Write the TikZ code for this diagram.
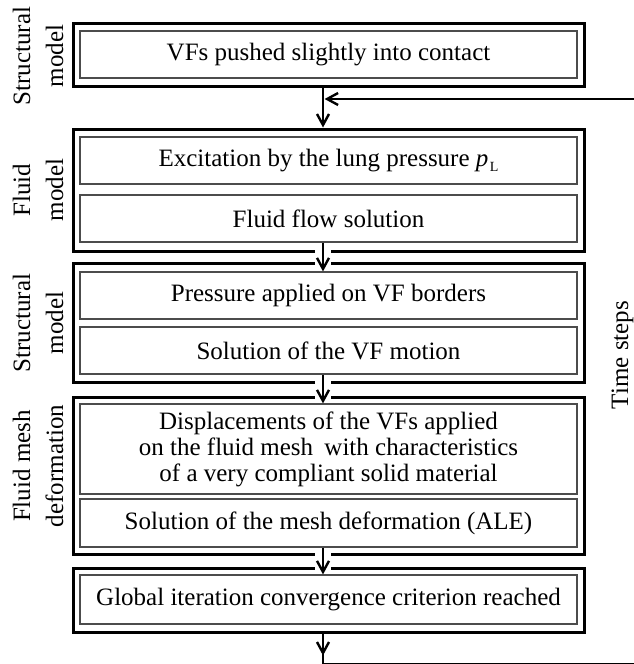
\documentclass[tikz,border=0pt]{standalone}
\usepackage{fontspec}
\setmainfont{Liberation Serif}
\usetikzlibrary{arrows.meta,calc}
\begin{document}
\begin{tikzpicture}[x=1pt,y=-1pt,
  outer/.style={draw, line width=3pt, inner sep=0pt, minimum width=511pt},
  inner/.style={draw=black!70, line width=1.2pt, inner sep=0pt, minimum width=497pt,
    font=\fontsize{25}{26}\selectfont, align=center},
  lab/.style={rotate=90, anchor=base, inner sep=0pt, font=\fontsize{25}{26}\selectfont},
  arr/.style={line width=2.4pt, -{Straight Barb[length=11pt,width=12pt]}},
  conn/.style={line width=2.4pt},
  gap/.style={white, line width=16pt}]
\useasboundingbox (0,0) rectangle (634,664);
\fill[white] (0,0) rectangle (634,664);

% box 1
\node[outer, minimum height=63pt] (b1) at (328.5,54.5) {};
\node[inner, minimum height=47pt] (b1a) at (328.5,54.5) {VFs pushed slightly into contact};
% box 2
\node[outer, minimum height=122pt] (b2) at (328.5,190) {};
\node[inner, minimum height=47pt] (b2a) at (328.5,160.5) {Excitation by the lung pressure \textit{p}\kern1.5pt\raisebox{-5pt}{\fontsize{14}{14}\selectfont L}};
\node[inner, minimum height=47pt] (b2b) at (328.5,218.5) {Fluid flow solution};
% box 3
\node[outer, minimum height=119pt] (b3) at (328.5,322.5) {};
\node[inner, minimum height=47pt] (b3a) at (328.5,295.5) {Pressure applied on VF borders};
\node[inner, minimum height=47pt] (b3b) at (328.5,350.5) {Solution of the VF motion};
% box 4
\node[outer, minimum height=157pt] (b4) at (328.5,475.5) {};
\node[inner, minimum height=90pt] (b4a) at (328.5,449) {Displacements of the VFs applied\\on the fluid mesh\hspace{5pt} with characteristics\\of a very compliant solid material};
\node[inner, minimum height=48pt] (b4b) at (328.5,523) {Solution of the mesh deformation (ALE)};
% box 5
\node[outer, minimum height=64pt] (b5) at (328.5,600) {};
\node[inner, minimum height=49pt] (b5a) at (328.5,599.5) {Global iteration convergence criterion reached};

% left labels
\node[lab] (l1a) at (30,56) {Structural};
\node[lab] (l1b) at (63,56) {model};
\node[lab] (l2a) at (30,190) {Fluid};
\node[lab] (l2b) at (63,190) {model};
\node[lab] (l3a) at (30,323) {Structural};
\node[lab] (l3b) at (63,323) {model};
\node[lab] (l4a) at (30,466) {Fluid mesh};
\node[lab] (l4b) at (63,466) {deformation};
% right label
\node[lab] (ts) at (628,355) {Time steps};

% connectors
\coordinate (ax) at (323,0);
\coordinate (bl) at (323,664.5);
\coordinate (br) at (645,664.5);
\coordinate (tr) at (645,99);
\coordinate (fb) at (324.6,99);

\draw[arr] (b1.south -| ax) -- (b2.north -| ax);

\draw[gap] ($(b2.south -| ax)+(0,-3)$) -- ($(b3.north -| ax)+(0,3)$);
\draw[arr] (b2b.south -| ax) -- (b3a.north -| ax);

\draw[gap] ($(b3.south -| ax)+(0,-3)$) -- ($(b4.north -| ax)+(0,3)$);
\draw[arr] (b3b.south -| ax) -- (b4a.north -| ax);

\draw[gap] ($(b4.south -| ax)+(0,-3)$) -- ($(b5.north -| ax)+(0,3)$);
\draw[arr] (b4b.south -| ax) -- (b5a.north -| ax);

\draw[conn] (b5.south -| ax) -- (bl) -- (br) -- (tr);
\draw[arr] (b5.south -| ax) -- ++(0,22);
\draw[arr] (tr) -- (fb);
\end{tikzpicture}
\end{document}
